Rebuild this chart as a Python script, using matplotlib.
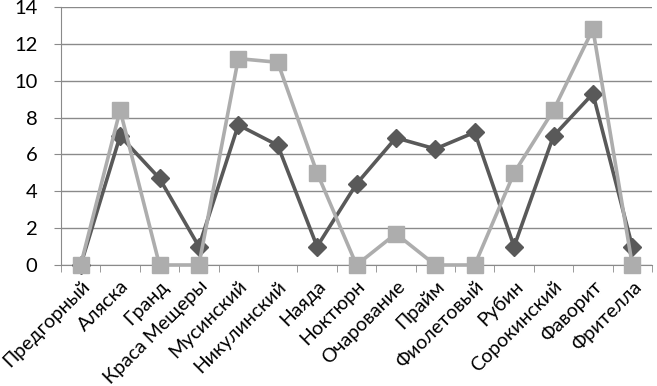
import numpy as np
import matplotlib.pyplot as plt

plt.rcParams['font.family'] = ['Lato', 'DejaVu Sans']

sorts = ['Предгорный', 'Аляска', 'Гранд', 'Краса Мещеры', 'Мусинский',
         'Никулинский', 'Наяда', 'Ноктюрн', 'Очарование', 'Прайм',
         'Фиолетовый', 'Рубин', 'Сорокинский', 'Фаворит', 'Фрителла']
dark = [0, 7.0, 4.7, 1.0, 7.6, 6.5, 1.0, 4.4, 6.9, 6.3, 7.2, 1.0, 7.0, 9.3, 1.0]
light = [0, 8.4, 0, 0, 11.2, 11.0, 5.0, 0, 1.7, 0, 0, 5.0, 8.4, 12.8, 0]

fig = plt.figure(figsize=(6.57, 3.86), dpi=100)
ax = fig.add_axes([61 / 657, 1 - 265 / 386, 591 / 657, 258 / 386])

x = np.arange(len(sorts))
ax.plot(x, dark, color='#595959', lw=2.6, marker='D', ms=9, zorder=3, clip_on=False)
ax.plot(x, light, color='#adadad', lw=2.6, marker='s', ms=12, zorder=4, clip_on=False)

ax.set_xlim(-0.5, len(sorts) - 0.5)
ax.set_ylim(0, 14)
ax.set_yticks(range(0, 15, 2))
ax.yaxis.grid(True, color='#8a8a8a', lw=1)
ax.set_axisbelow(True)

ax.set_xticks(x)
ax.set_xticklabels(sorts, rotation=45, ha='right', rotation_mode='anchor', fontsize=14)
ax.set_xticks(np.arange(-0.5, len(sorts)), minor=True)
ax.tick_params(axis='x', which='major', length=0, pad=9)
ax.tick_params(axis='x', which='minor', length=5, color='#8a8a8a')
ax.tick_params(axis='y', length=5, color='#8a8a8a', labelsize=14.5, pad=12)

for s in ['top', 'right']:
    ax.spines[s].set_visible(False)
for s in ['left', 'bottom']:
    ax.spines[s].set_color('#8a8a8a')

plt.savefig('out.png')
